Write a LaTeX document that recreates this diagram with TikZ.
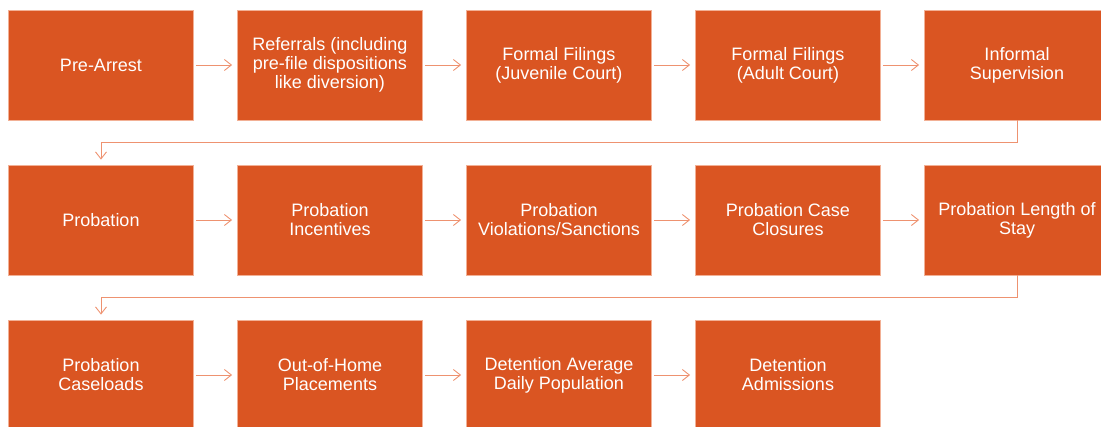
\documentclass[tikz,border=0pt]{standalone}
\usepackage{fontspec}
\setmainfont{Liberation Sans}
\usetikzlibrary{arrows.meta}
\definecolor{boxfill}{HTML}{DA5522}
\definecolor{boxedge}{HTML}{F2B095}
\definecolor{linkc}{HTML}{EE9270}
\tikzset{
  stage/.style={draw=boxedge, line width=0.8pt, fill=boxfill, minimum width=185pt, minimum height=110pt,
    inner sep=0pt, align=center, text=white, font=\fontsize{18}{19}\selectfont},
  link/.style={draw=linkc, line width=0.9pt, -{Straight Barb[length=7pt,width=11pt]}},
  flow/.style={link, shorten <=2pt, shorten >=5pt}
}
\begin{document}
\begin{tikzpicture}[x=1pt,y=-1pt]
\useasboundingbox (0,0) rectangle (1101,426);
\clip (0,0) rectangle (1101,426);
% row 1
\node[stage] (a1) at (101,65) {Pre-Arrest};
\node[stage] (a2) at (330,65) {Referrals (including\\pre-file dispositions\\like diversion)};
\node[stage] (a3) at (559,65) {Formal Filings\\(Juvenile Court)};
\node[stage] (a4) at (788,65) {Formal Filings\\(Adult Court)};
\node[stage] (a5) at (1017,65) {Informal\\Supervision};
% row 2
\node[stage] (b1) at (101,220) {Probation};
\node[stage] (b2) at (330,220) {Probation\\Incentives};
\node[stage] (b3) at (559,220) {Probation\\Violations/Sanctions};
\node[stage] (b4) at (788,220) {Probation Case\\Closures};
\node[stage] (b5) at (1017,220) {Probation Length of\\Stay};
% row 3
\node[stage] (c1) at (101,375) {Probation\\Caseloads};
\node[stage] (c2) at (330,375) {Out-of-Home\\Placements};
\node[stage] (c3) at (559,375) {Detention Average\\Daily Population};
\node[stage] (c4) at (788,375) {Detention\\Admissions};
% connectors
\foreach \r in {a,b,c}{
  \draw[flow] (\r1.east) -- (\r2.west);
  \draw[flow] (\r2.east) -- (\r3.west);
  \draw[flow] (\r3.east) -- (\r4.west);
}
\draw[flow] (a4.east) -- (a5.west);
\draw[flow] (b4.east) -- (b5.west);
\coordinate (t1) at (1017,142);
\coordinate (t2) at (101,142);
\coordinate (u1) at (1017,297);
\coordinate (u2) at (101,297);
\draw[link, shorten >=5pt] (a5.south) -- (t1) -- (t2) -- (b1.north);
\draw[link, shorten >=5pt] (b5.south) -- (u1) -- (u2) -- (c1.north);
\end{tikzpicture}
\end{document}
